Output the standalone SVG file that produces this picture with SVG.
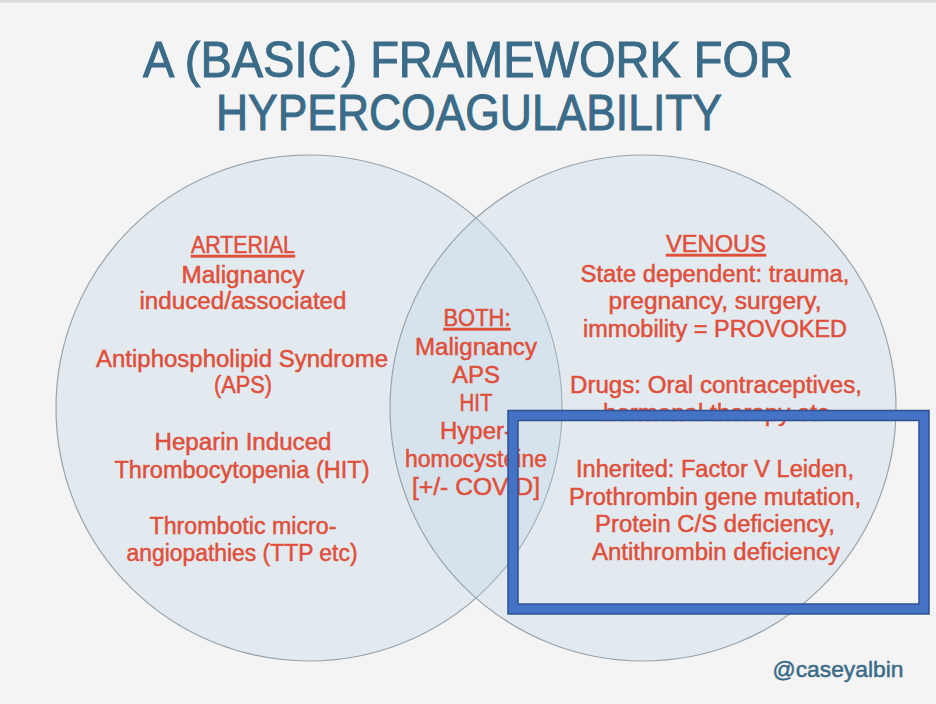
<svg xmlns="http://www.w3.org/2000/svg" width="936" height="704" viewBox="0 0 936 704">
<style>
.bg{fill:#F4F4F4}
.circ{fill:#B9D3E6;fill-opacity:0.3;stroke:#98A3AC;stroke-width:1.2}
.title{font-family:"Liberation Sans",Arial,sans-serif;font-size:50px;fill:#3A6B88;stroke:#3A6B88;stroke-width:1;text-anchor:middle}
.t{font-family:"Liberation Sans",Arial,sans-serif;font-size:23px;fill:#E04F3B;stroke:#E04F3B;stroke-width:0.5;text-anchor:middle}
.u{text-decoration:underline}
.handle{font-family:"Liberation Sans",Arial,sans-serif;font-size:22px;fill:#3A6B88;stroke:#3A6B88;stroke-width:0.5;text-anchor:middle}
.hl{fill:none;stroke:#4472C4;stroke-width:10}
.hle{fill:none;stroke:#2F528F;stroke-width:1.5}
</style>
<rect class="bg" x="0" y="0" width="936" height="704"/>
<rect x="0" y="0" width="936" height="2.5" fill="#DADADA"/>
<g id="title">
<text class="title" x="468" y="77" textLength="650" lengthAdjust="spacingAndGlyphs">A (BASIC) FRAMEWORK FOR</text>
<text class="title" x="469" y="130" textLength="506" lengthAdjust="spacingAndGlyphs">HYPERCOAGULABILITY</text>
</g>
<g id="circle-arterial"><circle class="circ" cx="309" cy="408" r="253"/></g>
<g id="circle-venous"><circle class="circ" cx="643" cy="408" r="253"/></g>
<g id="connectors"></g>
<g id="arterial">
<text class="t u" x="243" y="253" textLength="104" lengthAdjust="spacingAndGlyphs">ARTERIAL</text>
<text class="t" x="243" y="283" textLength="123" lengthAdjust="spacingAndGlyphs">Malignancy</text>
<text class="t" x="243" y="309" textLength="207" lengthAdjust="spacingAndGlyphs">induced/associated</text>
<text class="t" x="242" y="367" textLength="292" lengthAdjust="spacingAndGlyphs">Antiphospholipid Syndrome</text>
<text class="t" x="243" y="393" textLength="58" lengthAdjust="spacingAndGlyphs">(APS)</text>
<text class="t" x="243" y="450" textLength="177" lengthAdjust="spacingAndGlyphs">Heparin Induced</text>
<text class="t" x="242" y="478" textLength="255" lengthAdjust="spacingAndGlyphs">Thrombocytopenia (HIT)</text>
<text class="t" x="243" y="534" textLength="187" lengthAdjust="spacingAndGlyphs">Thrombotic micro-</text>
<text class="t" x="242" y="561" textLength="231" lengthAdjust="spacingAndGlyphs">angiopathies (TTP etc)</text>
</g>
<g id="both">
<text class="t u" x="477" y="326" textLength="67" lengthAdjust="spacingAndGlyphs">BOTH:</text>
<text class="t" x="476" y="355" textLength="122" lengthAdjust="spacingAndGlyphs">Malignancy</text>
<text class="t" x="476" y="383" textLength="48" lengthAdjust="spacingAndGlyphs">APS</text>
<text class="t" x="476" y="411" textLength="33" lengthAdjust="spacingAndGlyphs">HIT</text>
<text class="t" x="476" y="439" textLength="72" lengthAdjust="spacingAndGlyphs">Hyper-</text>
<text class="t" x="476" y="467" textLength="142" lengthAdjust="spacingAndGlyphs">homocysteine</text>
<text class="t" x="476" y="495" textLength="128" lengthAdjust="spacingAndGlyphs">[+/- COVID]</text>
</g>
<g id="venous">
<text class="t u" x="716" y="252" textLength="100" lengthAdjust="spacingAndGlyphs">VENOUS</text>
<text class="t" x="715" y="282" textLength="269" lengthAdjust="spacingAndGlyphs">State dependent: trauma,</text>
<text class="t" x="715" y="309" textLength="213" lengthAdjust="spacingAndGlyphs">pregnancy, surgery,</text>
<text class="t" x="715" y="337" textLength="264" lengthAdjust="spacingAndGlyphs">immobility = PROVOKED</text>
<text class="t" x="716" y="393" textLength="292" lengthAdjust="spacingAndGlyphs">Drugs: Oral contraceptives,</text>
<text class="t" x="716" y="421" textLength="226" lengthAdjust="spacingAndGlyphs">hormonal therapy etc</text>
<text class="t" x="715" y="477" textLength="278" lengthAdjust="spacingAndGlyphs">Inherited: Factor V Leiden,</text>
<text class="t" x="715" y="505" textLength="292" lengthAdjust="spacingAndGlyphs">Prothrombin gene mutation,</text>
<text class="t" x="715" y="532" textLength="240" lengthAdjust="spacingAndGlyphs">Protein C/S deficiency,</text>
<text class="t" x="716" y="560" textLength="248" lengthAdjust="spacingAndGlyphs">Antithrombin deficiency</text>
</g>
<g id="highlight-box">
<rect class="hl" x="513" y="415.5" width="411" height="193.5"/>
<rect class="hle" x="508" y="410.5" width="421" height="203.5"/>
<rect class="hle" x="518" y="420.5" width="401" height="183.5"/>
</g>
<g id="handle">
<text class="handle" x="838" y="677" textLength="131" lengthAdjust="spacingAndGlyphs">@caseyalbin</text>
</g>
</svg>
